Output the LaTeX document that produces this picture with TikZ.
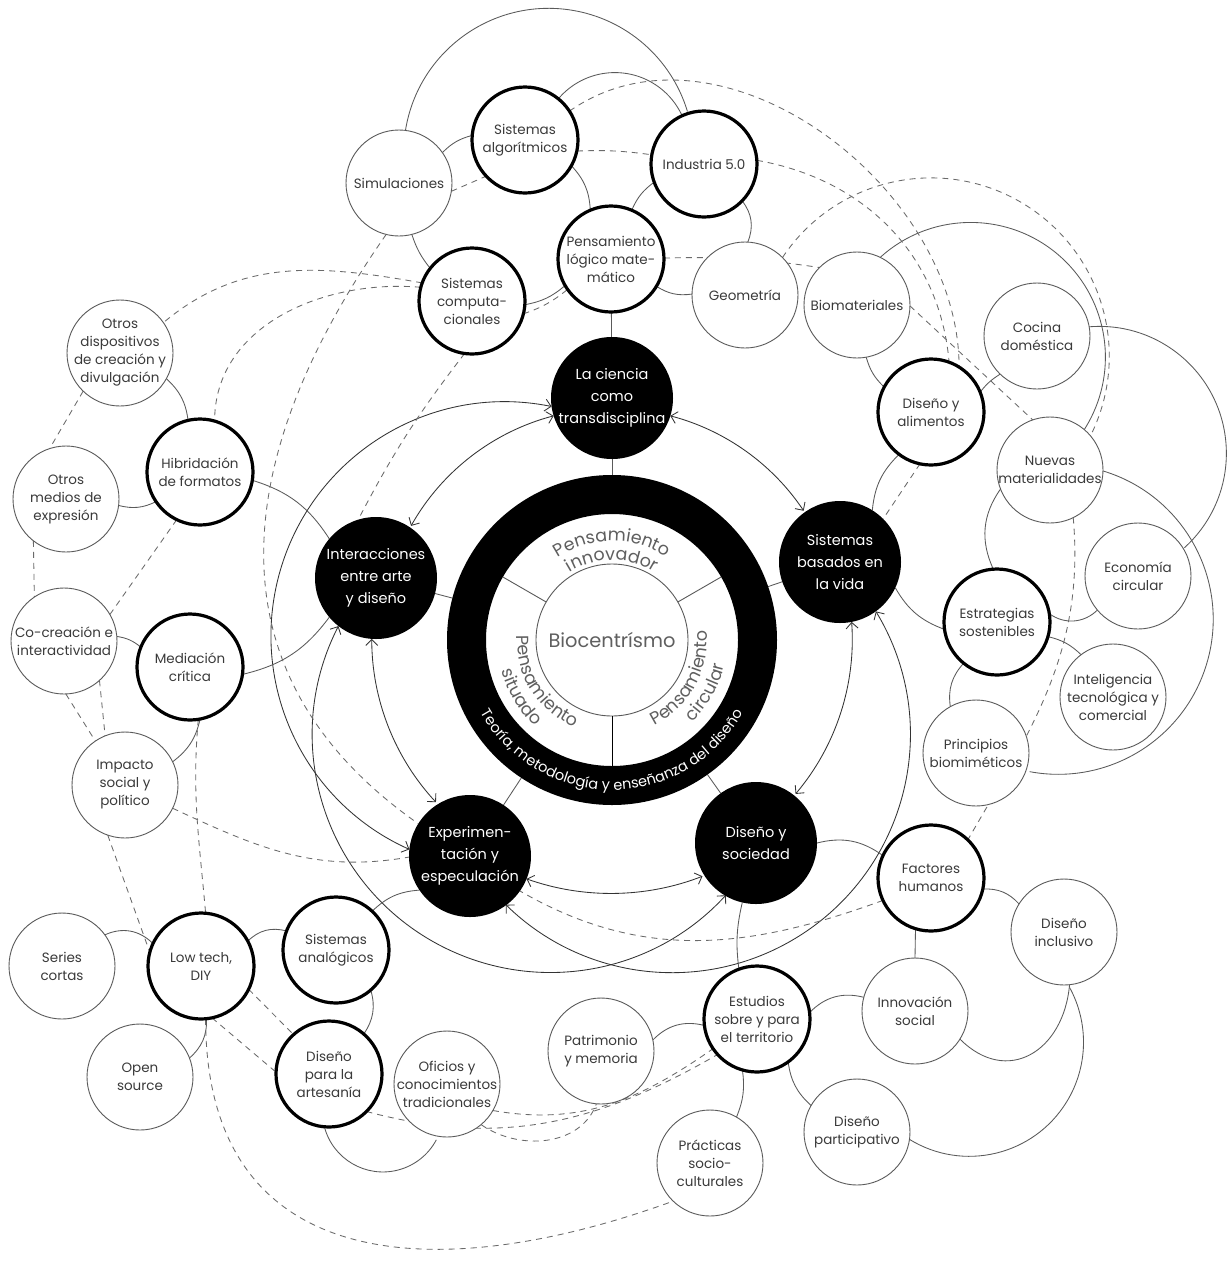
\documentclass[tikz,border=0pt]{standalone}
\usepackage{fontspec}
\setmainfont{Poppins}
\usetikzlibrary{arrows.meta,decorations.text}
\definecolor{txt}{HTML}{3A3A3A}
\definecolor{ln}{HTML}{5A5A5A}
\definecolor{dashc}{HTML}{6A6A6A}
\definecolor{ringtxt}{HTML}{5F5F5F}
\pgfdeclarelayer{bg}
\pgfsetlayers{bg,main}
\newcommand\ringf{\fontsize{17.5}{19}\selectfont}
\newcommand\bandf{\fontsize{14.5}{16}\selectfont}
\begin{document}
\begin{tikzpicture}[x=1pt,y=1pt,
  ltx/.style={align=center, text=txt, inner sep=0pt, font=\fontsize{13.5}{18}\selectfont},
  btx/.style={align=center, text=white, inner sep=0pt, font=\fontsize{14.5}{22}\selectfont},
  tn/.style={circle, draw=ln, line width=0.9pt, fill=white, minimum size=106pt, inner sep=0pt, outer sep=0pt, label={[ltx]center:{#1}}},
  tk/.style={circle, draw=black, line width=3.2pt, fill=white, minimum size=106pt, inner sep=0pt, outer sep=0pt, label={[ltx]center:{#1}}},
  bk/.style={circle, fill=black, minimum size=122pt, inner sep=0pt, outer sep=0pt, label={[btx]center:{#1}}},
  conn/.style={draw=ln, line width=0.85pt},
  dsh/.style={draw=dashc, line width=0.85pt, dash pattern=on 6pt off 5pt},
  arr/.style={draw=black!80, line width=0.85pt, >={Straight Barb[length=6pt,width=12pt]}, <->},
  band/.style={decorate, decoration={text along path, text align=center, text color=#1}}
]
\useasboundingbox (0,0) rectangle (1229,-1278);
\begin{pgfonlayer}{bg}
\fill[white] (0,0) rectangle (1229,-1278);
\end{pgfonlayer}

% ---------- central ring ----------
\coordinate (c) at (612,-640);
\node[circle, minimum size=330pt, inner sep=0pt, outer sep=0pt] (ring) at (c) {};
\fill[black, even odd rule] (c) circle[radius=165] (c) circle[radius=126];
\draw[ln, line width=0.9pt] (c) circle[radius=76];
\foreach \a in {30,150} \draw[ln, line width=0.9pt] ([shift={(\a:76)}]c) -- ([shift={(\a:126)}]c);
\draw[black, line width=0.9pt] ([shift={(270:76)}]c) -- ([shift={(270:126)}]c);
\node[text=ringtxt, font=\fontsize{19.4}{21}\selectfont] at (c) {Biocentrísmo};
\path[band=ringtxt, decoration={text={|\ringf|Pensamiento}}] ([shift={(150:99)}]c) arc[start angle=150, end angle=30, radius=99];
\path[band=ringtxt, decoration={text={|\ringf|innovador}}] ([shift={(150:80)}]c) arc[start angle=150, end angle=30, radius=80];
\path[band=ringtxt, decoration={text={|\ringf|Pensamiento}}] ([shift={(152:95)}]c) arc[start angle=152, end angle=272, radius=95];
\path[band=ringtxt, decoration={text={|\ringf|situado}}] ([shift={(152:115)}]c) arc[start angle=152, end angle=272, radius=115];
\path[band=ringtxt, decoration={text={|\ringf|Pensamiento}}] ([shift={(271:95)}]c) arc[start angle=271, end angle=391, radius=95];
\path[band=ringtxt, decoration={text={|\ringf|circular}}] ([shift={(271:115)}]c) arc[start angle=271, end angle=391, radius=115];
\path[band=white, decoration={text={|\bandf|Teoría, metodología y enseñanza del diseño}}] ([shift={(190:150)}]c) arc[start angle=190, end angle=350, radius=150];

% ---------- black nodes ----------
\node[bk={La ciencia\\como\\transdisciplina}] (lc) at (612,-398) {};
\node[bk={Sistemas\\basados en\\la vida}] (sbv) at (840,-562) {};
\node[bk={Diseño y\\sociedad}] (dys) at (756,-843) {};
\node[bk={Experimen-\\tación y\\especulación}] (expe) at (470,-856) {};
\node[bk={Interacciones\\entre arte\\y diseño}] (iad) at (376,-578) {};

% ---------- outer nodes ----------
\node[tn={Simulaciones}] (sim) at (399,-183) {};
\node[tk={Sistemas\\algorítmicos}] (sa) at (525,-140) {};
\node[tk={Industria 5.0}] (ind) at (704,-164) {};
\node[tk={Pensamiento\\lógico mate-\\mático}] (plm) at (611,-259) {};
\node[tk={Sistemas\\computa-\\cionales}] (sc) at (472,-301) {};
\node[tn={Geometría}] (geo) at (745,-295) {};
\node[tn={Biomateriales}] (bio) at (857,-305) {};
\node[tn={Cocina\\doméstica}] (coc) at (1037,-336) {};
\node[tk={Diseño y\\alimentos}] (dya) at (931,-412) {};
\node[tn={Nuevas\\materialidades}] (nue) at (1050,-470) {};
\node[tn={Economía\\circular}] (eco) at (1138,-576) {};
\node[tk={Estrategias\\sostenibles}] (estr) at (997,-622) {};
\node[tn={Inteligencia\\tecnológica y\\comercial}] (intl) at (1113,-697) {};
\node[tn={Principios\\biomiméticos}] (pri) at (976,-753) {};
\node[tk={Factores\\humanos}] (fh) at (931,-878) {};
\node[tn={Diseño\\inclusivo}] (di) at (1064,-932) {};
\node[tn={Innovación\\social}] (inn) at (915,-1011) {};
\node[tk={Estudios\\sobre y para\\el territorio}] (ter) at (757,-1019) {};
\node[tn={Patrimonio\\y memoria}] (pat) at (601,-1051) {};
\node[tn={Prácticas\\socio-\\culturales}] (pra) at (710,-1163) {};
\node[tn={Diseño\\participativo}] (dp) at (857,-1132) {};
\node[tn={Oficios y\\conocimientos\\tradicionales}] (ofi) at (447,-1084) {};
\node[tk={Diseño\\para la\\artesanía}] (da) at (329,-1074) {};
\node[tn={Open\\source}] (os) at (140,-1077) {};
\node[tk={Low tech,\\DIY}] (lt) at (201,-966) {};
\node[tn={Series\\cortas}] (ser) at (62,-966) {};
\node[tk={Sistemas\\analógicos}] (san) at (336,-950) {};
\node[tn={Impacto\\social y\\político}] (imp) at (125,-785) {};
\node[tk={Mediación\\crítica}] (med) at (190,-667) {};
\node[tn={Co-creación e\\interactividad}] (cc) at (64,-641) {};
\node[tn={Otros\\medios de\\expresión}] (om) at (66,-499) {};
\node[tk={Hibridación\\de formatos}] (hib) at (200,-472) {};
\node[tn={Otros\\dispositivos\\de creación y\\divulgación}] (od) at (120,-353) {};

\begin{pgfonlayer}{bg}
% ---------- arrows between black nodes ----------
\draw[arr] (lc.-17.6) arc[start angle=75.3, end angle=33.8, radius=231];
\draw[arr] (lc.197.6) arc[start angle=104.7, end angle=150.6, radius=231];
\draw[arr] (sbv.-79.4) arc[start angle=4.1, end angle=-40.2, radius=240];
\draw[arr] (iad.266.3) arc[start angle=180, end angle=222.9, radius=240];
\draw[arr] (expe.-22.2) arc[start angle=250.5, end angle=291.2, radius=253];
\draw[arr] (lc.188.1) arc[start angle=78.5, end angle=245.9, radius=234];
\draw[arr] (iad.232.7) arc[start angle=152.9, end angle=317.5, radius=238];
\draw[arr] (sbv.-54.9) arc[start angle=31.2, end angle=-134.4, radius=238];
\foreach \n in {lc,sbv,dys,expe,iad} \draw[conn] (\n) -- (ring);

% ---------- solid connectors ----------
\draw[conn] (sim.83) arc[start angle=170.9, end angle=16.8, radius=145];
\draw[conn] (sa.51.8) arc[start angle=139.8, end angle=22, radius=74];
\draw[conn] (sim.35) to[bend left=15] (sa.175);
\draw[conn] (sim.-76) to[bend right=10] (sc.142);
\draw[conn] (sa.-29) to[bend left=20] (plm.113);
\draw[conn] (ind.200) to[bend right=15] (plm.67);
\draw[conn] (ind.-44) to[bend left=30] (geo.87);
\draw[conn] (plm.-31) to[bend right=20] (geo.179);
\draw[conn] (sc.-4) to[bend right=15] (plm.210);
\draw[conn] (plm) -- (lc);
\draw[conn] (bio.64.9) arc[start angle=132.2, end angle=-34, radius=134.7];
\draw[conn] (coc.10.7) arc[start angle=94.6, end angle=-48, radius=127];
\draw[conn] (nue.-1) arc[start angle=73.2, end angle=-100.6, radius=155];
\draw[conn] (nue.201) to[bend right=30] (estr.94);
\draw[conn] (bio.-80) to[bend right=15] (dya.152);
\draw[conn] (dya.22) to[bend left=10] (coc.226);
\draw[conn] (dya.233) to[bend right=20] (sbv.58);
\draw[conn] (sbv.-25) to[bend right=20] (estr.188);
\draw[conn] (estr.9) to[bend right=40] (eco.220);
\draw[conn] (estr.-16) to[bend left=15] (intl.127);
\draw[conn] (estr.231) to[bend right=25] (pri.119);
\draw[conn] (dys.0) to[bend left=25] (fh.155);
\draw[conn] (dys.257) to[bend right=10] (ter.110);
\draw[conn] (fh.-12) to[bend left=25] (di.148);
\draw[conn] (fh.253) -- (inn.90);
\draw[conn] (ter.7) to[bend left=30] (inn.165);
\draw[conn] (inn.-32) to[out=-45, in=-95, looseness=1.4] (di.-84);
\draw[conn] (ter.187) to[bend right=30] (pat.12);
\draw[conn] (ter.254) to[bend left=15] (pra.60);
\draw[conn] (ter.-54) to[bend right=20] (dp.150);
\draw[conn] (dp.-8.6) arc[start angle=238.4, end angle=388.7, radius=114.2];
\draw[conn] (ser.36) to[bend left=35] (lt.155);
\draw[conn] (lt.28) to[bend left=30] (san.159);
\draw[conn] (lt.-84) to[bend left=25] (os.21);
\draw[conn] (san.-49) to[bend left=25] (da.49);
\draw[conn] (da.-95) arc[start angle=194.7, end angle=332, radius=60.5];
\draw[conn] (med.-79) to[bend left=20] (imp.26);
\draw[conn] (cc.5) to[bend left=15] (med.158);
\draw[conn] (om.-7) to[bend right=20] (hib.214);
\draw[conn] (od.-29) to[bend left=20] (hib.103);
\draw[conn] (hib.-9) to[bend left=20] (iad.140);
\draw[conn] (med.-8) to[bend right=20] (iad.220);
\draw[conn] (san.47) to[bend left=20] (expe.214);

% ---------- dashed connectors ----------
\draw[dsh] (sim.-9) -- (sa.223);
\draw[dsh] (sa.-12) to[bend left=5] (ind.170);
\draw[dsh] (sa.33) to[out=35, in=90] (dya.58);
\draw[dsh] (ind.4) to[out=-10, in=95] (dya.70);
\draw[dsh] (geo.45) arc[start angle=146.4, end angle=-25.7, radius=178.3];
\draw[dsh] (plm.1) to[bend left=5] (bio.135);
\draw[dsh] (bio.-1) -- (nue.109);
\draw[dsh] (dya.258) -- (sbv.45);
\draw[dsh] (nue.-64) to[out=-85, in=60] (fh.46);
\draw[dsh] (sc.262) to[bend right=5] (iad.107);
\draw[dsh] (sc.160) to[out=170, in=40] (od.35);
\draw[dsh] (sc.165) to[out=175, in=90] (hib.74);
\draw[dsh] (sim.256) to[out=235, in=145, looseness=1.15] (expe.148);
\draw[dsh] (hib.244) -- (cc.30);
\draw[dsh] (od.226) -- (om.108);
\draw[dsh] (om.232) -- (cc.124);
\draw[dsh] (cc.-88) -- (imp.124);
\draw[dsh] (cc.-48) -- (imp.112);
\draw[dsh] (med.-81) to[out=-95, in=95] (lt.85);
\draw[dsh] (imp.-26) to[out=-25, in=190] (expe.181);
\draw[dsh] (imp.251) -- (lt.165);
\draw[dsh] (lt.-26) -- (da.132);
\draw[dsh] (lt.-78) -- (da.178);
\draw[dsh] (lt.-85) to[out=-90, in=200, looseness=1.3] (pra.226);
\draw[dsh] (da.-45) to[out=-15, in=210] (ter.222);
\draw[dsh] (ofi.-30) to[out=-10, in=215] (ter.214);
\draw[dsh] (ofi.-50) to[out=-35, in=-110] (pat.265);
\draw[dsh] (fh.205) to[out=200, in=-30] (expe.-35);
\draw[dsh] (sc.-14) to[bend right=10] (plm.215);
\end{pgfonlayer}
\end{tikzpicture}
\end{document}
